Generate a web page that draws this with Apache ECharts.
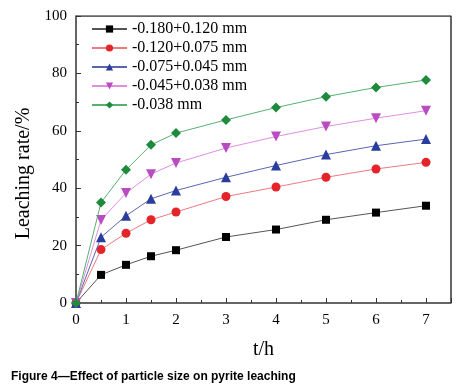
<!DOCTYPE html>
<html>
<head>
<meta charset="utf-8">
<script src="https://cdn.jsdelivr.net/npm/echarts@6/dist/echarts.min.js"></script>
<style>
  html, body { margin: 0; padding: 0; background: #fff; }
  #chart { width: 462px; height: 389px; }
</style>
</head>
<body>
<div id="chart"></div>
<script>
const times = [0, 0.5, 1, 1.5, 2, 3, 4, 5, 6, 7];
const names = ["-0.180+0.120 mm", "-0.120+0.075 mm", "-0.075+0.045 mm", "-0.045+0.038 mm", "-0.038 mm"];
const coarse = [0, 9.8, 13.3, 16.3, 18.4, 23, 25.6, 29, 31.5, 33.9];
const medium = [0, 18.6, 24.3, 29, 31.7, 37.1, 40.4, 43.8, 46.7, 49];
const fine = [0, 22.9, 30.4, 36.3, 39.2, 43.8, 47.9, 51.7, 54.8, 57.1];
const finer = [0, 28.9, 38.3, 44.9, 48.8, 54, 58, 61.5, 64.4, 67];
const finest = [0, 35, 46.4, 55.1, 59.2, 63.8, 68.1, 71.9, 75.1, 77.7];
const xTicks = [0, 1, 2, 3, 4, 5, 6, 7];

const colors = ["#000000", "#e4232a", "#2a3d9c", "#b84cc0", "#1e8a3c"];
const lineColors = ["#555555", "#ec7a7e", "#5a66b0", "#e08ee0", "#58b070"];
const symbols = ["rect", "circle", "triangle", "triangle", "diamond"];
const symbolSizes = [8, 9, 10, 10, 10];
const rotations = [0, 0, 0, 180, 0];
const values = [coarse, medium, fine, finer, finest];

const serif = "Liberation Serif";
const chart = echarts.init(document.getElementById("chart"));

const option = {
  animation: false,
  title: {
    text: "Figure 4\u2014Effect of particle size on pyrite leaching",
    left: 6,
    top: 366,
    textStyle: { fontFamily: "Liberation Sans", fontSize: 12, fontWeight: "bold", color: "#000" },
  },
  grid: { left: 76, right: 11, top: 16, bottom: 86 },
  legend: {
    left: 86,
    top: 16,
    orient: "vertical",
    itemGap: 3,
    itemWidth: 35,
    itemHeight: 9,
    data: names,
    textStyle: { fontFamily: serif, fontSize: 16, lineHeight: 16, color: "#000" },
  },
  xAxis: {
    type: "value",
    min: 0,
    max: 7.5,
    interval: 1,
    name: "t/h",
    nameLocation: "middle",
    nameGap: 37,
    nameTextStyle: { fontFamily: serif, fontSize: 20, color: "#000" },
    axisLine: { lineStyle: { color: "#333", width: 1.5 } },
    axisTick: { inside: true, length: 5, lineStyle: { color: "#333" } },
    minorTick: { show: true, splitNumber: 2, length: 3, lineStyle: { color: "#333" } },
    axisLabel: {
      fontFamily: serif,
      fontSize: 15,
      color: "#000",
      margin: 10,
      formatter: (v) => (xTicks.includes(v) ? String(v) : ""),
    },
    splitLine: { show: false },
  },
  yAxis: {
    type: "value",
    min: 0,
    max: 100,
    interval: 20,
    name: "Leaching rate/%",
    nameLocation: "middle",
    nameGap: 40,
    nameTextStyle: { fontFamily: serif, fontSize: 20, color: "#000", padding: [0, 28, 0, 0] },
    axisLine: { lineStyle: { color: "#333", width: 1.5 } },
    axisTick: { inside: true, length: 5, lineStyle: { color: "#333" } },
    minorTick: { show: true, splitNumber: 2, length: 3, lineStyle: { color: "#333" } },
    axisLabel: { fontFamily: serif, fontSize: 15, color: "#000", margin: 9 },
    splitLine: { show: false },
  },
  series: names.map((name, i) => ({
    name,
    type: "line",
    data: times.map((t, j) => [t, values[i][j]]),
    symbol: symbols[i],
    symbolSize: symbolSizes[i],
    symbolRotate: rotations[i],
    itemStyle: { color: colors[i] },
    lineStyle: { color: lineColors[i], width: 1 },
    z: 2 + i,
  })),
};

// frame on top and right
option.series.push({
  type: "line",
  data: [[0, 100], [7.5, 100], [7.5, 0]],
  symbol: "none",
  lineStyle: { color: "#333", width: 1.5 },
  silent: true,
  z: 1,
});

chart.setOption(option);
</script>
</body>
</html>
